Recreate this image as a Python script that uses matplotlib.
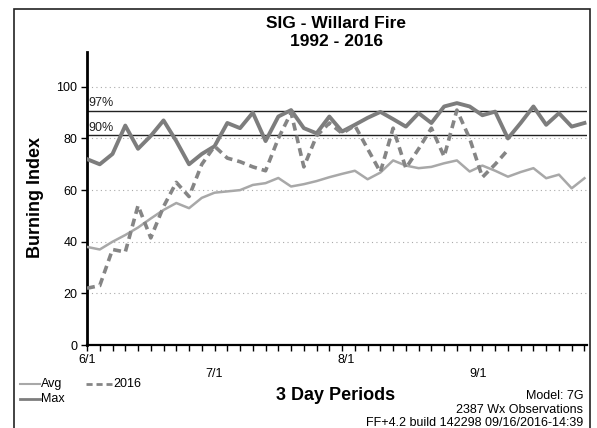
import matplotlib
matplotlib.use("Agg")
import matplotlib.pyplot as plt
import matplotlib.transforms as mtransforms
from matplotlib.patches import Rectangle

plt.rcParams['font.family'] = ['Liberation Sans', 'DejaVu Sans']

# ---- data (3-day periods starting 6/1) ----
avg = [38, 37, 40, 42.6, 45.5, 49, 52.3, 55, 53, 57,
       59, 59.5, 60, 62, 62.7, 64.7, 61.4, 62.3, 63.5, 65,
       66.3, 67.5, 64.2, 66.8, 71.5, 69.5, 68.5, 69, 70.4, 71.5,
       67.2, 69.5, 67.5, 65.2, 67, 68.5, 64.6, 66, 60.7, 64.6]
mx = [72, 70, 74, 85, 76, 81, 87, 79, 70, 74,
      77, 86, 84, 90, 79, 88.5, 91, 84, 82, 88.5,
      82.7, 85.3, 88, 90.3, 87.5, 84.6, 89.8, 86, 92.4, 93.7,
      92.4, 89, 90.4, 80, 86, 92.4, 85.3, 89.8, 84.6, 86]
y2016 = [22, 23, 37, 36, 54, 41.5, 53.6, 63, 57.5, 70,
         77, 72.4, 71, 69, 67.5, 80, 90, 69, 81, 86,
         82, 85, 76, 67, 84, 68.5, 76, 84, 73, 91,
         80, 65, 70, 75.6]
p97 = 90.8
p90 = 81.3
month_labels = ['6/1', '7/1', '8/1', '9/1']
month_days = [0, 30, 61, 92]
yticks = [0, 20, 40, 60, 80, 100]

W, H = 597, 428
fig = plt.figure(figsize=(W / 100, H / 100), dpi=100)
fig.patch.set_facecolor('white')

# outer frame
fig.patches.append(Rectangle((14 / W, -0.05), (590 - 14) / W, 1.05 - 9 / H + 0.0,
                             transform=fig.transFigure, fill=False,
                             edgecolor='#222222', linewidth=1.2))

ax = fig.add_axes([87 / W, 1 - 345 / H, (587 - 87) / W, (345 - 52) / H])
ax.set_xlim(0, 39.2)
ax.set_ylim(0, 113.5)
for s in ['top', 'right']:
    ax.spines[s].set_visible(False)
ax.spines['left'].set_linewidth(2.0)
ax.spines['bottom'].set_linewidth(1.6)

ax.set_yticks(yticks)
ax.set_yticklabels([str(v) for v in yticks], fontsize=9)
ax.tick_params(axis='y', length=4, width=1, pad=3)
ax.set_xticks(range(0, 40))
ax.set_xticklabels([])
ax.tick_params(axis='x', length=4, width=1, direction='out')

for v in yticks[1:]:
    ax.axhline(v, color='#aaaaaa', linestyle=(0, (1, 3)), linewidth=0.8, zorder=1)

ax.axhline(p97, color='#222222', linewidth=1.0, zorder=2)
ax.axhline(p90, color='#222222', linewidth=1.0, zorder=2)
ax.text(0.1, p97 + 0.5, '97%', fontsize=9, va='bottom', ha='left', color='#222222')
ax.text(0.1, p90 + 0.5, '90%', fontsize=9, va='bottom', ha='left', color='#222222')

ax.plot(range(len(avg)), avg, color='#a8a8a8', linewidth=1.8, zorder=3)
ax.plot(range(len(mx)), mx, color='#7d7d7d', linewidth=2.8, zorder=4)
ax.plot(range(len(y2016)), y2016, color='#858585', linewidth=2.6,
        linestyle=(0, (2.2, 1.4)), zorder=5)

# month labels, alternating rows
trans = mtransforms.blended_transform_factory(ax.transData, fig.transFigure)
rows = [1 - 360 / H, 1 - 374 / H]
for k, (lab, d) in enumerate(zip(month_labels, month_days)):
    ax.text(d / 3.0, rows[k % 2], lab, transform=trans, ha='center', va='center',
            fontsize=9)

# titles
fig.text(336 / W, 1 - 24 / H, 'SIG - Willard Fire', ha='center', va='center',
         fontsize=12.5, fontweight='bold')
fig.text(336 / W, 1 - 42 / H, '1992 - 2016', ha='center', va='center',
         fontsize=12.5, fontweight='bold')
fig.text(35 / W, 1 - 197 / H, 'Burning Index', ha='center', va='center',
         rotation=90, fontsize=13, fontweight='bold')
fig.text(336 / W, 1 - 395 / H, '3 Day Periods', ha='center', va='center',
         fontsize=13, fontweight='bold')

# legend
fig.lines.append(plt.Line2D([20 / W, 40 / W], [1 - 384 / H] * 2, transform=fig.transFigure,
                            color='#a8a8a8', linewidth=1.5))
fig.text(41 / W, 1 - 384 / H, 'Avg', ha='left', va='center', fontsize=9)
fig.lines.append(plt.Line2D([20 / W, 40 / W], [1 - 399 / H] * 2, transform=fig.transFigure,
                            color='#7d7d7d', linewidth=2.0))
fig.text(41 / W, 1 - 399 / H, 'Max', ha='left', va='center', fontsize=9)
fig.lines.append(plt.Line2D([86 / W, 112 / W], [1 - 384 / H] * 2, transform=fig.transFigure,
                            color='#858585', linewidth=2.0, linestyle=(0, (2.2, 1.4))))
fig.text(113 / W, 1 - 384 / H, '2016', ha='left', va='center', fontsize=9)

# info text
fig.text(583 / W, 1 - 396 / H, 'Model: 7G', ha='right', va='center', fontsize=9)
fig.text(583 / W, 1 - 410 / H, '2387 Wx Observations', ha='right', va='center', fontsize=9)
fig.text(583 / W, 1 - 423 / H, 'FF+4.2 build 142298 09/16/2016-14:39', ha='right',
         va='center', fontsize=9)

fig.savefig('out.png', dpi=100, facecolor='white')
